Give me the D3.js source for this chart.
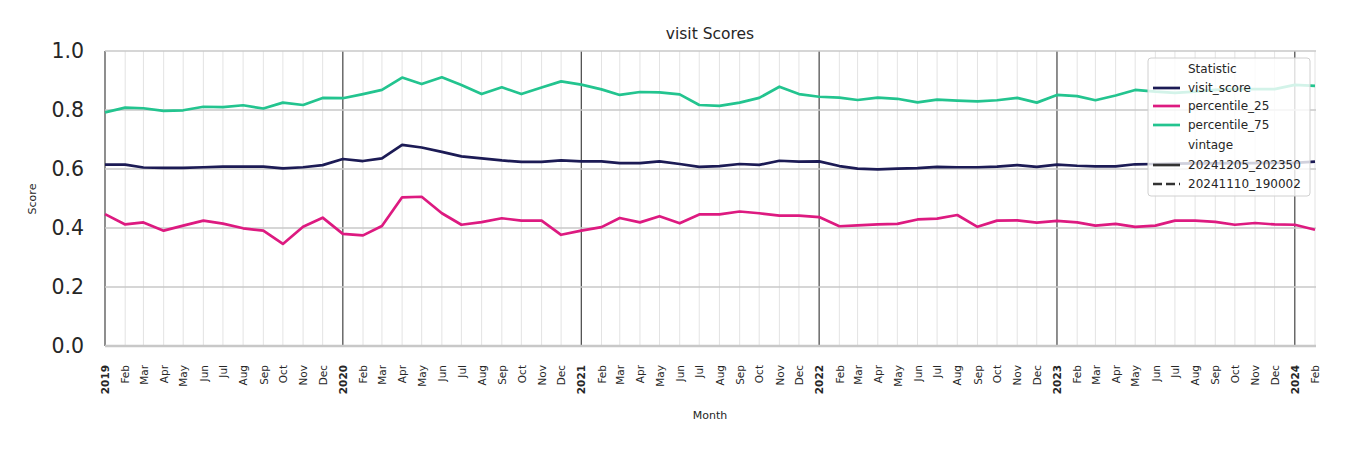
<!DOCTYPE html>
<html><head><meta charset="utf-8">
<script src="https://cdn.jsdelivr.net/npm/d3@7"></script>
<style>body{margin:0;background:#fff;font-family:"DejaVu Sans",sans-serif;}</style>
</head><body><svg id="c" width="1350" height="450"></svg>
<script>
const months = d3.timeMonths(new Date(2019,0,1), new Date(2024,1,2));
const visitScore = [0.615,0.615,0.605,0.604,0.604,0.606,0.608,0.608,0.608,0.602,0.606,0.613,
 0.634,0.627,0.636,0.682,0.673,0.658,0.643,0.636,0.629,0.624,0.624,0.629,
 0.626,0.626,0.620,0.620,0.626,0.617,0.607,0.610,0.617,0.614,0.628,0.625,
 0.626,0.610,0.601,0.599,0.601,0.603,0.607,0.606,0.606,0.608,0.613,0.607,
 0.615,0.611,0.609,0.609,0.616,0.617,0.618,0.619,0.619,0.620,0.620,0.621,
 0.621,0.625];
const percentile25 = [0.447,0.412,0.419,0.391,0.408,0.425,0.415,0.399,0.391,0.346,0.404,0.435,
 0.380,0.375,0.407,0.504,0.506,0.450,0.411,0.420,0.433,0.425,0.425,0.377,
 0.391,0.403,0.434,0.419,0.440,0.416,0.446,0.446,0.456,0.450,0.442,0.442,
 0.437,0.406,0.409,0.412,0.414,0.429,0.432,0.444,0.404,0.425,0.426,0.418,
 0.424,0.419,0.408,0.414,0.404,0.408,0.425,0.425,0.421,0.411,0.417,0.412,
 0.411,0.394];
const percentile75 = [0.792,0.808,0.806,0.797,0.799,0.811,0.810,0.816,0.805,0.825,0.817,0.841,
 0.840,0.854,0.868,0.910,0.888,0.911,0.885,0.854,0.877,0.854,0.876,0.897,
 0.886,0.870,0.851,0.861,0.860,0.853,0.817,0.814,0.825,0.841,0.879,0.854,
 0.845,0.842,0.834,0.842,0.838,0.826,0.835,0.832,0.829,0.833,0.841,0.825,
 0.851,0.847,0.833,0.849,0.868,0.862,0.858,0.862,0.868,0.871,0.871,0.871,
 0.885,0.882];
const yTicks = [0.0,0.2,0.4,0.6,0.8,1.0];
const seriesNames = ["visit_score","percentile_25","percentile_75"];
const seriesColors = ["#1c1b55","#dd1a80","#23c48f"];
const vintages = ["20241205_202350","20241110_190002"];
const monthNames = ["Jan","Feb","Mar","Apr","May","Jun","Jul","Aug","Sep","Oct","Nov","Dec"];

const svg = d3.select("#c");
const x = d3.scaleTime().domain([new Date(2019,0,1), new Date(2024,1,1)]).range([105,1315]);
const y = d3.scaleLinear().domain([0,1]).range([346,51]);

// month grid
svg.append("g").selectAll("line").data(months).join("line")
  .attr("x1",d=>x(d)).attr("x2",d=>x(d)).attr("y1",51).attr("y2",346)
  .attr("stroke",d=>d.getMonth()===0?"#444":"#dcdcdc")
  .attr("stroke-width",d=>d.getMonth()===0?1.2:0.8);
// y grid
svg.append("g").selectAll("line").data(yTicks).join("line")
  .attr("x1",105).attr("x2",1316).attr("y1",d=>y(d)).attr("y2",d=>y(d))
  .attr("stroke","#c8c8c8").attr("stroke-width",d=>d===0?2.5:1.5);

// y axis labels
const ya = svg.append("g").attr("transform","translate(105,0)")
  .call(d3.axisLeft(y).tickValues(yTicks).tickFormat(d3.format(".1f")).tickSize(0).tickPadding(21));
ya.select(".domain").remove();
ya.selectAll("text").attr("font-family","DejaVu Sans").attr("font-size",20.5).attr("fill","#262626");

// x axis labels
const xa = svg.append("g").attr("transform","translate(0,346)")
  .call(d3.axisBottom(x).tickValues(months).tickSize(0)
    .tickFormat(d=>d.getMonth()===0?String(d.getFullYear()):monthNames[d.getMonth()]));
xa.select(".domain").remove();
xa.selectAll("text")
  .attr("font-family","DejaVu Sans").attr("font-size",10.5).attr("fill","#262626")
  .attr("font-weight",d=>d.getMonth()===0?"bold":"normal")
  .attr("transform","rotate(-90)").attr("text-anchor","end")
  .attr("x",-19).attr("y",0).attr("dy","0.35em");

// lines
const allSeries = [visitScore, percentile25, percentile75];
const line = d3.line().x((d,i)=>x(months[i])).y(d=>y(d));
allSeries.forEach((s,k)=>{
  svg.append("path").datum(s).attr("d",line).attr("fill","none")
    .attr("stroke",seriesColors[k]).attr("stroke-width",2.7).attr("stroke-linejoin","round");
});

// title & labels
svg.append("text").attr("x",710).attr("y",39).attr("text-anchor","middle")
  .attr("font-size",15.5).attr("fill","#262626").text("visit Scores");
svg.append("text").attr("x",710).attr("y",419).attr("text-anchor","middle")
  .attr("font-size",11).attr("fill","#262626").text("Month");
svg.append("text").attr("transform","translate(36,199) rotate(-90)").attr("text-anchor","middle")
  .attr("font-size",11).attr("fill","#262626").text("Score");

// legend
const lg = svg.append("g");
lg.append("rect").attr("x",1148).attr("y",58).attr("width",162).attr("height",138).attr("rx",3)
  .attr("fill","#fff").attr("fill-opacity",0.8).attr("stroke","#d0d0d0").attr("stroke-width",1);
const items = [
  {t:"Statistic"},
  {t:seriesNames[0],c:seriesColors[0]},
  {t:seriesNames[1],c:seriesColors[1]},
  {t:seriesNames[2],c:seriesColors[2]},
  {t:"vintage"},
  {t:vintages[0],c:"#333"},
  {t:vintages[1],c:"#333",dash:true}
];
const rowY = [69,88,106,125,145,165,184];
items.forEach((it,i)=>{
  const yy = rowY[i];
  if(it.c){
    lg.append("line").attr("x1",1153).attr("x2",1180).attr("y1",yy).attr("y2",yy)
      .attr("stroke",it.c).attr("stroke-width",2.7)
      .attr("stroke-dasharray",it.dash?"9,4":null);
  }
  lg.append("text").attr("x",1188).attr("y",yy).attr("dy","0.35em").attr("font-size",12)
    .attr("fill","#262626").text(it.t);
});
</script></body></html>
